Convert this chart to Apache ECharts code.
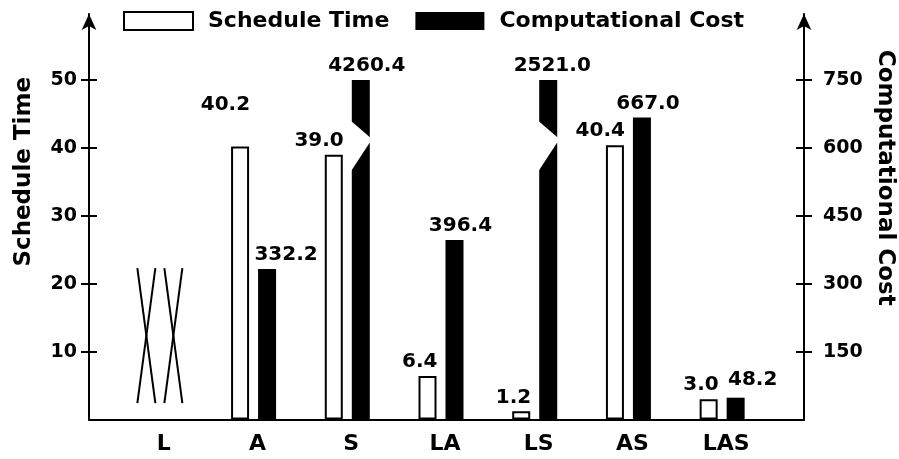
<!DOCTYPE html>
<html><head><meta charset="utf-8">
<script src="https://cdn.jsdelivr.net/npm/echarts@6/dist/echarts.min.js"></script>
<style>html,body{margin:0;padding:0;background:#fff}#chart{width:899px;height:459px}</style>
</head><body><div id="chart"></div>
<script>
// ---- data ----
const categories = ['L', 'A', 'S', 'LA', 'LS', 'AS', 'LAS'];
const scheduleTime = [null, 40.2, 39.0, 6.4, 1.2, 40.4, 3.0];
const computationalCost = [null, 332.2, 4260.4, 396.4, 2521.0, 667.0, 48.2];
const leftTicks = [10, 20, 30, 40, 50];
const rightTicks = [150, 300, 450, 600, 750];
const costCap = 750;                 // broken bars are drawn up to this value
const missingSpan = [2.4, 22.3];     // crossed-out (no data) marks, schedule units

// ---- style ----
const FONT = 'DejaVu Sans';
const txt = (size) => ({ fontFamily: FONT, fontWeight: 'bold', fontSize: size, color: '#000' });
const BW = 18, HALF = 13.5;
const LEFT_MAX = 59.72, RIGHT_MAX = LEFT_MAX * 15;
const schedLabelShift = [[0, 0], [0, -28], [0, 0], [0, 0], [0, 0], [0, 0], [0, 0]];
const costLabelShift = [[0, 0], [19, 0], [6, 0], [6, 0], [4, 0], [6, 0], [17, -4]];
const breakCut = [660, 622, 615, 548];   // break polygon (cost units)
const tickLine = { color: '#000', width: 2 };

const chart = echarts.init(document.getElementById('chart'));

const option = {
  animation: false,
  backgroundColor: '#fff',
  legend: {
    left: 118, top: 5, itemWidth: 69, itemHeight: 18, itemGap: 26,
    selectedMode: false,
    textStyle: Object.assign(txt(22), { padding: [0, 0, 0, 10] }),
    data: [
      { name: 'Schedule Time', icon: 'rect', itemStyle: { color: '#fff', borderColor: '#000', borderWidth: 2 } },
      { name: 'Computational Cost', icon: 'rect', itemStyle: { color: '#000', borderWidth: 0 } }
    ]
  },
  grid: [
    { left: 113, right: 130, top: 14, bottom: 39.5, outerBoundsMode: 'none', containLabel: false },
    { left: 89, right: 95, top: 14, bottom: 39.5, outerBoundsMode: 'none', containLabel: false }
  ],
  xAxis: [
    { type: 'category', gridIndex: 0, data: categories,
      axisLine: { show: false }, axisTick: { show: false },
      axisLabel: Object.assign(txt(22), { margin: 14, padding: [0, 0, 0, 8] }) },
    { type: 'value', gridIndex: 1, min: 0, max: 1,
      axisLine: { show: true, lineStyle: tickLine }, axisTick: { show: false },
      axisLabel: { show: false }, splitLine: { show: false } }
  ],
  yAxis: [
    { type: 'value', gridIndex: 1, position: 'left', min: 0, max: LEFT_MAX, interval: 10,
      name: 'Schedule Time', nameLocation: 'middle', nameGap: 53, nameRotate: 90, nameMoveOverlap: false,
      nameTextStyle: Object.assign(txt(23), { padding: [0, 0, 0, 90] }),
      axisLine: { show: true, symbol: ['none', 'arrow'], symbolSize: [11, 16], lineStyle: tickLine },
      axisTick: { show: true, length: 8, lineStyle: tickLine, customValues: leftTicks },
      axisLabel: Object.assign(txt(19), { margin: 12, customValues: leftTicks }),
      splitLine: { show: false } },
    { type: 'value', gridIndex: 1, position: 'right', min: 0, max: RIGHT_MAX, interval: 150,
      name: 'Computational Cost', nameLocation: 'middle', nameGap: 69, nameRotate: -90, nameMoveOverlap: false,
      nameTextStyle: Object.assign(txt(23), { padding: [0, 78, 0, 0] }),
      axisLine: { show: true, symbol: ['none', 'arrow'], symbolSize: [11, 16], lineStyle: tickLine },
      axisTick: { show: true, length: 8, lineStyle: tickLine, customValues: rightTicks },
      axisLabel: Object.assign(txt(19), { margin: 19, customValues: rightTicks }),
      splitLine: { show: false } },
    { type: 'value', gridIndex: 1, position: 'left', min: 0, max: LEFT_MAX,
      axisLine: { show: false },
      axisTick: { show: true, inside: true, length: 8, lineStyle: tickLine, customValues: leftTicks },
      axisLabel: { show: false }, splitLine: { show: false } },
    { type: 'value', gridIndex: 1, position: 'right', min: 0, max: RIGHT_MAX,
      axisLine: { show: false },
      axisTick: { show: true, inside: true, length: 8, lineStyle: tickLine, customValues: rightTicks },
      axisLabel: { show: false }, splitLine: { show: false } },
    { type: 'value', gridIndex: 0, position: 'left', min: 0, max: LEFT_MAX, show: false },
    { type: 'value', gridIndex: 0, position: 'right', min: 0, max: RIGHT_MAX, show: false }
  ],
  series: [
    { name: 'Schedule Time', type: 'bar', xAxisIndex: 0, yAxisIndex: 4,
      barWidth: BW, barGap: '50%', z: 2,
      data: scheduleTime.map((v, i) => v == null ? null :
        { value: v, label: { offset: schedLabelShift[i] } }),
      itemStyle: { color: '#fff', borderColor: '#000', borderWidth: 2 },
      label: Object.assign(txt(20), { show: true, position: [BW + 1, -4], align: 'right', verticalAlign: 'bottom',
        formatter: p => Number(p.value).toFixed(1) }) },
    { name: 'Computational Cost', type: 'bar', xAxisIndex: 0, yAxisIndex: 5,
      barWidth: BW, barGap: '50%', z: 2,
      data: computationalCost.map((v, i) => v == null ? null :
        { value: Math.min(v, costCap), label: { offset: costLabelShift[i] } }),
      itemStyle: { color: '#000' },
      label: Object.assign(txt(20), { show: true, position: 'top', distance: 4,
        formatter: p => computationalCost[p.dataIndex].toFixed(1) }) },
    { type: 'custom', xAxisIndex: 0, yAxisIndex: 5, z: 5, silent: true,
      data: computationalCost.map((v, i) => (v != null && v > costCap) ? [i, costCap] : null).filter(Boolean),
      renderItem: (params, api) => {
        const i = api.value(0);
        const cx = api.coord([i, 0])[0] + HALF;
        const y = v => api.coord([i, v])[1];
        const l = cx - BW / 2 - 1, r = cx + BW / 2 + 1;
        return { type: 'polygon', shape: { points: [[l, y(breakCut[0])], [r, y(breakCut[1])], [r, y(breakCut[2])], [l, y(breakCut[3])]] },
          style: { fill: '#fff' } };
      } },
    { type: 'custom', xAxisIndex: 0, yAxisIndex: 4, z: 5, silent: true,
      data: categories.map((c, i) => (scheduleTime[i] == null && computationalCost[i] == null) ? [i, missingSpan[0], missingSpan[1]] : null).filter(Boolean),
      renderItem: (params, api) => {
        const i = api.value(0);
        const c = api.coord([i, 0])[0];
        const yb = api.coord([i, api.value(1)])[1];
        const yt = api.coord([i, api.value(2)])[1];
        const children = [];
        [-HALF, HALF].forEach(o => {
          const l = c + o - BW / 2, r = c + o + BW / 2;
          children.push({ type: 'line', shape: { x1: l, y1: yt, x2: r, y2: yb }, style: { stroke: '#000', lineWidth: 2 } });
          children.push({ type: 'line', shape: { x1: r, y1: yt, x2: l, y2: yb }, style: { stroke: '#000', lineWidth: 2 } });
        });
        return { type: 'group', children };
      } }
  ]
};
chart.setOption(option);
</script>
</body></html>
